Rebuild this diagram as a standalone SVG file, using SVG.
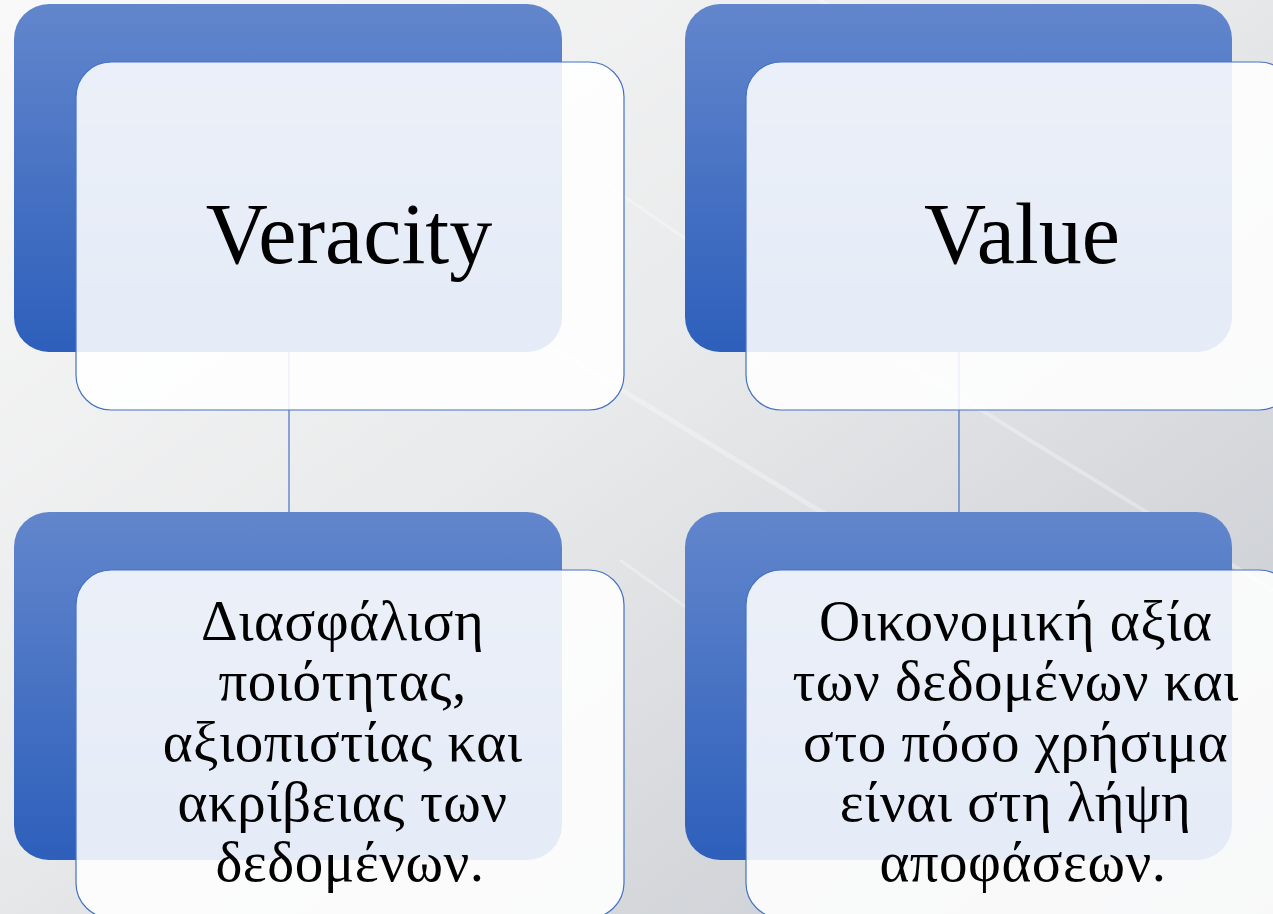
<svg xmlns="http://www.w3.org/2000/svg" width="1273" height="914" viewBox="0 0 1273 914">
  <defs>
    <linearGradient id="bg" x1="0" y1="0" x2="1" y2="1">
      <stop offset="0" stop-color="#f9f9f9"/>
      <stop offset="0.45" stop-color="#e9eaeb"/>
      <stop offset="1" stop-color="#c3c7cd"/>
    </linearGradient>
    <linearGradient id="blue" x1="0" y1="0" x2="0" y2="1">
      <stop offset="0" stop-color="#6286cc"/>
      <stop offset="1" stop-color="#2d5fbb"/>
    </linearGradient>
    <style>
      .back { fill: url(#blue); }
      .front { fill: #ffffff; fill-opacity: 0.88; stroke: #4472c4; stroke-width: 1.2; }
      .conn { stroke: #4472c4; stroke-width: 1.2; fill: none; }
      .streak { stroke: #ffffff; stroke-opacity: 0.3; fill: none; }
      .title { font-family: "Liberation Serif", "Times New Roman", serif; font-size: 86px; fill: #000000; text-anchor: middle; }
      .body { font-family: "Liberation Serif", "Times New Roman", serif; font-size: 57px; fill: #000000; text-anchor: middle; letter-spacing: 0.5px; }
    </style>
  </defs>

  <rect x="0" y="0" width="1273" height="914" fill="url(#bg)"/>
  <g id="streaks">
    <line class="streak" x1="540" y1="340" x2="900" y2="560" stroke-width="5"/>
    <line class="streak" x1="900" y1="360" x2="1273" y2="590" stroke-width="4"/>
    <line class="streak" x1="600" y1="180" x2="760" y2="290" stroke-width="3"/>
    <line class="streak" x1="620" y1="560" x2="760" y2="660" stroke-width="3"/>
    <line class="streak" x1="820" y1="0" x2="1000" y2="110" stroke-width="3"/>
  </g>

  <g id="connectors">
    <line class="conn" x1="289" y1="352" x2="289" y2="512"/>
    <line class="conn" x1="959" y1="352" x2="959" y2="512"/>
  </g>

  <g id="node-veracity">
    <rect class="back" x="14" y="4" width="548" height="348" rx="35" ry="35"/>
    <rect class="front" x="76" y="62" width="548" height="348" rx="35" ry="35"/>
    <text class="title" x="349" y="263">Veracity</text>
  </g>

  <g id="node-value">
    <rect class="back" x="685" y="4" width="547" height="348" rx="35" ry="35"/>
    <rect class="front" x="746" y="62" width="548" height="348" rx="35" ry="35"/>
    <text class="title" x="1022" y="263">Value</text>
  </g>

  <g id="node-veracity-desc">
    <rect class="back" x="14" y="512" width="548" height="348" rx="35" ry="35"/>
    <rect class="front" x="76" y="570" width="548" height="348" rx="35" ry="35"/>
    <text class="body" x="350">
      <tspan x="350" y="640">Διασφάλιση</tspan>
      <tspan x="350" y="700">ποιότητας,</tspan>
      <tspan x="350" y="761">αξιοπιστίας και</tspan>
      <tspan x="350" y="821">ακρίβειας των</tspan>
      <tspan x="350" y="881">δεδομένων.</tspan>
    </text>
  </g>

  <g id="node-value-desc">
    <rect class="back" x="685" y="512" width="547" height="348" rx="35" ry="35"/>
    <rect class="front" x="746" y="570" width="548" height="348" rx="35" ry="35"/>
    <text class="body" x="1023">
      <tspan x="1023" y="640">Οικονομική αξία</tspan>
      <tspan x="1023" y="700">των δεδομένων και</tspan>
      <tspan x="1023" y="761">στο πόσο χρήσιμα</tspan>
      <tspan x="1023" y="821">είναι στη λήψη</tspan>
      <tspan x="1023" y="881">αποφάσεων.</tspan>
    </text>
  </g>
</svg>
